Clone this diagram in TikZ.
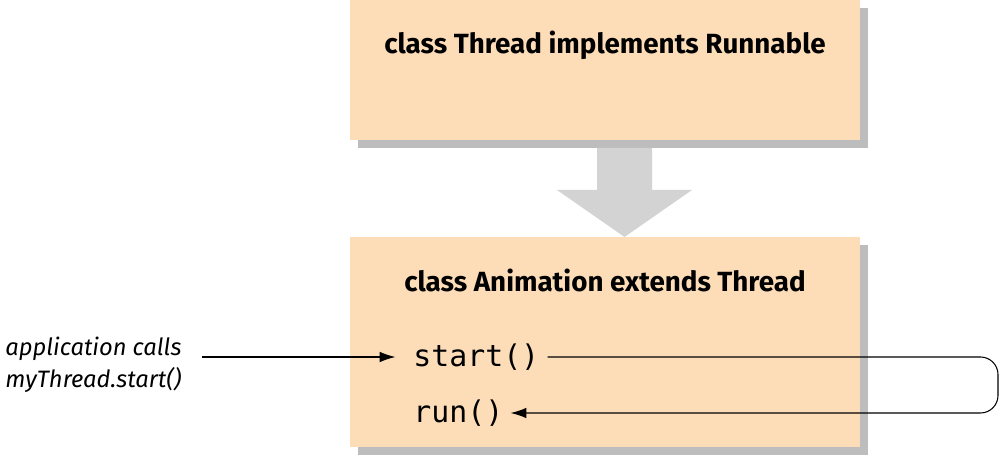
\documentclass[tikz,border=0pt]{standalone}
\usepackage{fontspec}
\usetikzlibrary{arrows.meta}
\setmainfont{Fira Sans}
\setmonofont{DejaVu Sans Mono}
\definecolor{peach}{HTML}{FCDDB8}
\definecolor{shade}{HTML}{BDBDBD}
\definecolor{bigarrow}{HTML}{D3D3D3}
\begin{document}
\begin{tikzpicture}[x=0.02cm,y=-0.02cm]
\tikzset{box/.style={fill=peach},
  shadowbox/.style={fill=shade},
  title/.style={font=\fontsize{15.8}{18}\selectfont\bfseries},
  code/.style={font=\fontsize{17}{19}\selectfont\ttfamily, anchor=west, inner sep=0pt},
  note/.style={font=\fontsize{13.5}{18}\selectfont\itshape, align=left, anchor=west, inner sep=0pt}}
\useasboundingbox (0,0) rectangle (1000,472);
% shadows and boxes
\fill[shadowbox] (358,8) rectangle (868,148);
\fill[box] (350,0) rectangle (860,140);
\fill[shadowbox] (358,245) rectangle (868,455);
\fill[box] (350,237) rectangle (860,447);
% inheritance arrow
\fill[bigarrow] (597,148) -- (652,148) -- (652,190) -- (692,190) -- (624.5,237) -- (557,190) -- (597,190) -- cycle;
\node[title] (thread) at (605,45) {class Thread implements Runnable};
\node[title] (anim) at (605,280) {class Animation extends Thread};
\node[code] (start) at (413,357) {start()};
\node[code] (run) at (413,413) {run()};
\node[note] (app) at (5,365) {application calls\\myThread.start()};
\coordinate (turn) at (998,357);
\draw[-{Latex[length=9pt,width=6pt]}, semithick] (app.east |- start) ++(20,0) coordinate (from) -- ([xshift=-10]start.west);
\draw[-{Latex[length=9pt,width=6pt]}, semithick, rounded corners=10] (start.east) ++(8,0) -- (turn) -- (turn |- run) -- ([xshift=4]run.east);
\end{tikzpicture}
\end{document}
